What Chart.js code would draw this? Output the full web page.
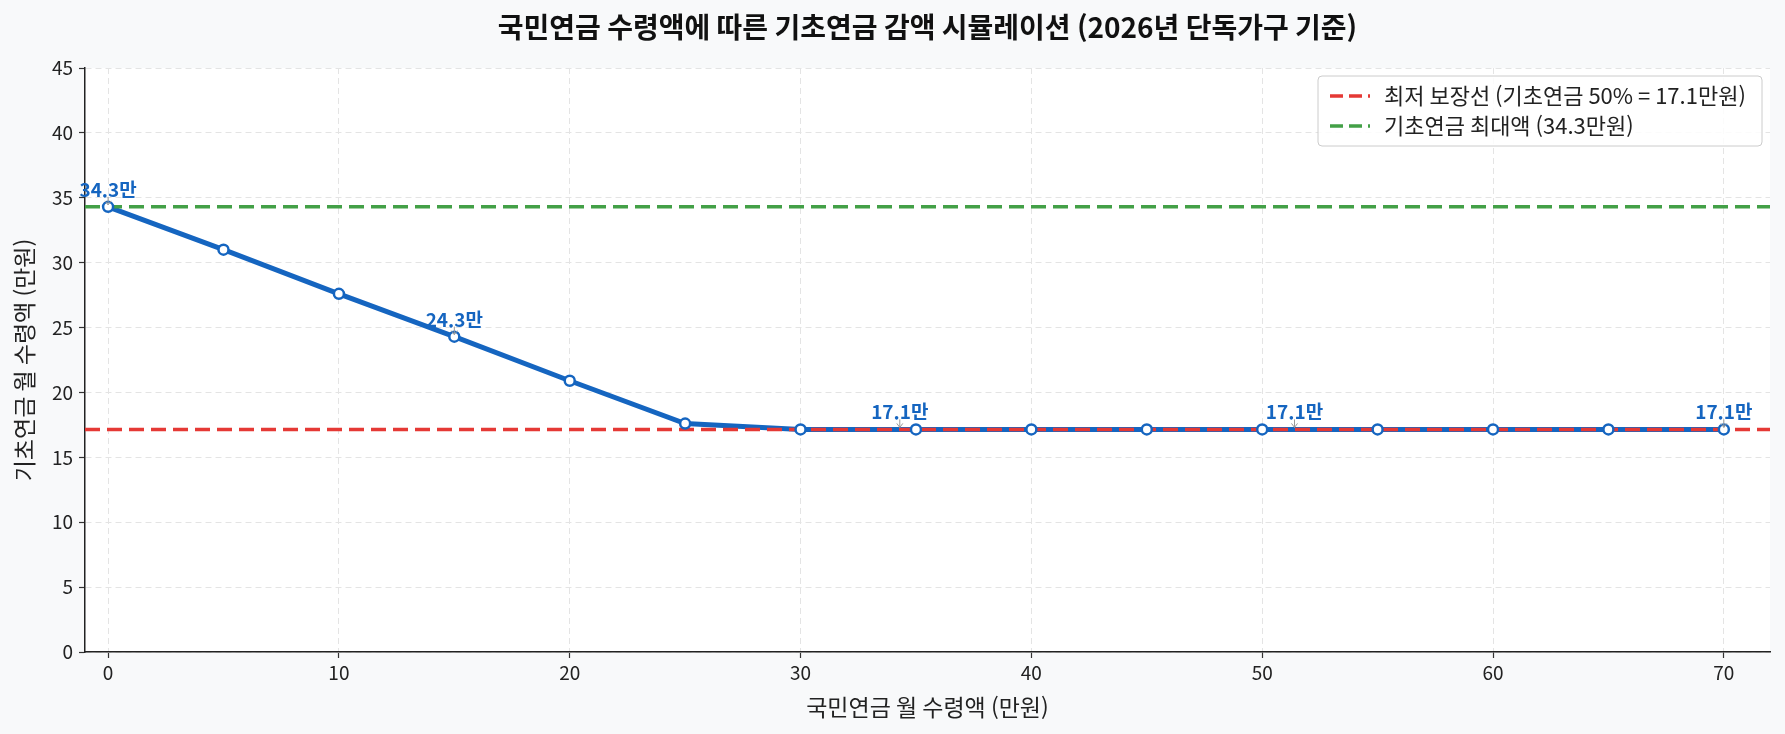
<!DOCTYPE html>
<html lang="ko">
<head>
<meta charset="utf-8">
<title>기초연금 감액 시뮬레이션</title>
<script src="https://cdn.jsdelivr.net/npm/chart.js@4.4.1/dist/chart.umd.min.js"></script>
<style>
  html, body { margin: 0; padding: 0; background: #f8f9fa; }
  #wrap { width: 1785px; height: 734px; }
</style>
</head>
<body>
<div id="wrap"><canvas id="grafico" width="1785" height="734"></canvas></div>
<script>
// datos
const pensionX = [0, 5, 10, 15, 20, 25, 30, 35, 40, 45, 50, 55, 60, 65, 70];
const basicY   = [34.3, 31.0, 27.6, 24.3, 20.9, 17.6, 17.15, 17.15, 17.15, 17.15, 17.15, 17.15, 17.15, 17.15, 17.15];

const minGuarantee = 17.15;   // 최저 보장선
const maxBasic = 34.3;        // 기초연금 최대액

const xTicks = [0, 10, 20, 30, 40, 50, 60, 70];
const yTicks = [0, 5, 10, 15, 20, 25, 30, 35, 40, 45];
const xMin = -1, xMax = 72;

const annX    = [0, 15, 34.3, 51.4, 70];
const annY    = [34.3, 24.3, 17.15, 17.15, 17.15];
const annText = ['34.3만', '24.3만', '17.1만', '17.1만', '17.1만'];

const legendLabels = ['최저 보장선 (기초연금 50% = 17.1만원)', '기초연금 최대액 (34.3만원)'];
const titulo = '국민연금 수령액에 따른 기초연금 감액 시뮬레이션 (2026년 단독가구 기준)';

const AZUL = '#1565C0', ROJO = '#E53935', VERDE = '#43A047';
const FUENTE = "'Noto Sans CJK KR', 'Noto Sans', sans-serif";

const puntos = pensionX.map((x, i) => ({ x: x, y: basicY[i] }));

// titulo, leyenda y anotaciones dibujadas a mano
const extras = {
    id: 'extras',
    beforeDraw(chart) {
        const { ctx, chartArea: a } = chart;
        ctx.save();
        ctx.fillStyle = '#ffffff';
        ctx.fillRect(a.left, a.top, a.right - a.left, a.bottom - a.top);
        ctx.restore();
    },
    afterDraw(chart) {
        const { ctx, chartArea: a, scales } = chart;
        ctx.save();

        // titulo
        ctx.fillStyle = '#111';
        ctx.font = 'bold 28px ' + FUENTE;
        ctx.textAlign = 'center';
        ctx.textBaseline = 'middle';
        ctx.fillText(titulo, (a.left + a.right) / 2, 27);

        // anotaciones
        annX.forEach((v, i) => {
            const px = scales.x.getPixelForValue(v);
            const py = scales.y.getPixelForValue(annY[i]);
            ctx.strokeStyle = '#999';
            ctx.lineWidth = 1;
            ctx.setLineDash([]);
            ctx.beginPath();
            ctx.moveTo(px, py - 10);
            ctx.lineTo(px, py - 2);
            ctx.moveTo(px - 3, py - 6);
            ctx.lineTo(px, py - 2);
            ctx.lineTo(px + 3, py - 6);
            ctx.stroke();
            ctx.fillStyle = AZUL;
            ctx.font = 'bold 19px ' + FUENTE;
            ctx.textAlign = 'center';
            ctx.textBaseline = 'alphabetic';
            ctx.fillText(annText[i], px, py - 10);
        });

        // leyenda
        const bx = 1318, by = 76, bw = 444, bh = 70;
        ctx.fillStyle = 'rgba(255,255,255,0.85)';
        ctx.strokeStyle = '#cccccc';
        ctx.lineWidth = 1;
        ctx.beginPath();
        ctx.roundRect(bx, by, bw, bh, 4);
        ctx.fill();
        ctx.stroke();
        const colores = [ROJO, VERDE];
        legendLabels.forEach((txt, i) => {
            const cy = by + 20 + i * 30;
            ctx.strokeStyle = colores[i];
            ctx.lineWidth = 3.5;
            ctx.setLineDash([13, 6]);
            ctx.beginPath();
            ctx.moveTo(bx + 12, cy);
            ctx.lineTo(bx + 52, cy);
            ctx.stroke();
            ctx.setLineDash([]);
            ctx.fillStyle = '#222';
            ctx.font = '22px ' + FUENTE;
            ctx.textAlign = 'left';
            ctx.textBaseline = 'middle';
            ctx.fillText(txt, bx + 66, cy);
        });
        ctx.restore();
    }
};

const ctx = document.getElementById('grafico').getContext('2d');

new Chart(ctx, {
    type: 'line',
    plugins: [extras],
    data: {
        datasets: [
            {
                label: 'linea',
                data: puntos,
                borderColor: AZUL,
                borderWidth: 5,
                pointRadius: 0,
                tension: 0,
                order: 3
            },
            {
                label: legendLabels[0],
                data: [{ x: xMin, y: minGuarantee }, { x: xMax, y: minGuarantee }],
                borderColor: ROJO,
                borderWidth: 3.5,
                borderDash: [15, 7],
                pointRadius: 0,
                order: 2
            },
            {
                label: legendLabels[1],
                data: [{ x: xMin, y: maxBasic }, { x: xMax, y: maxBasic }],
                borderColor: VERDE,
                borderWidth: 3.5,
                borderDash: [15, 7],
                pointRadius: 0,
                order: 2
            },
            {
                label: 'puntos',
                data: puntos,
                showLine: false,
                pointRadius: 5,
                pointBorderWidth: 2.5,
                pointBackgroundColor: '#ffffff',
                pointBorderColor: AZUL,
                order: 1
            }
        ]
    },
    options: {
        responsive: false,
        animation: false,
        layout: { padding: { top: 68, right: 15, left: 0, bottom: 0 } },
        scales: {
            x: {
                type: 'linear',
                min: xMin,
                max: xMax,
                afterBuildTicks: s => { s.ticks = xTicks.map(v => ({ value: v })); },
                afterFit: s => { s.height = 82; },
                ticks: { color: '#222', font: { family: FUENTE, size: 19 }, padding: 3 },
                grid: { color: '#e4e4e4', lineWidth: 1, tickLength: 6, tickColor: '#333', tickWidth: 1.2 },
                border: { display: true, color: '#222', width: 1.5, dash: [6, 4] },
                title: { display: true, text: '국민연금 월 수령액 (만원)', color: '#222', font: { family: FUENTE, size: 23 }, padding: { top: 0, bottom: 13 } }
            },
            y: {
                type: 'linear',
                min: 0,
                max: 45,
                afterBuildTicks: s => { s.ticks = yTicks.map(v => ({ value: v })); },
                afterFit: s => { s.width = 85; },
                ticks: { color: '#222', font: { family: FUENTE, size: 19 }, padding: 6 },
                grid: { color: '#e4e4e4', lineWidth: 1, tickLength: 6, tickColor: '#333', tickWidth: 1.2 },
                border: { display: true, color: '#222', width: 1.5, dash: [6, 4] },
                title: { display: true, text: '기초연금 월 수령액 (만원)', color: '#222', font: { family: FUENTE, size: 23 }, padding: { top: 10, bottom: 0 } }
            }
        },
        plugins: {
            legend: { display: false },
            tooltip: { enabled: false },
            title: { display: false }
        }
    }
});
</script>
</body>
</html>
